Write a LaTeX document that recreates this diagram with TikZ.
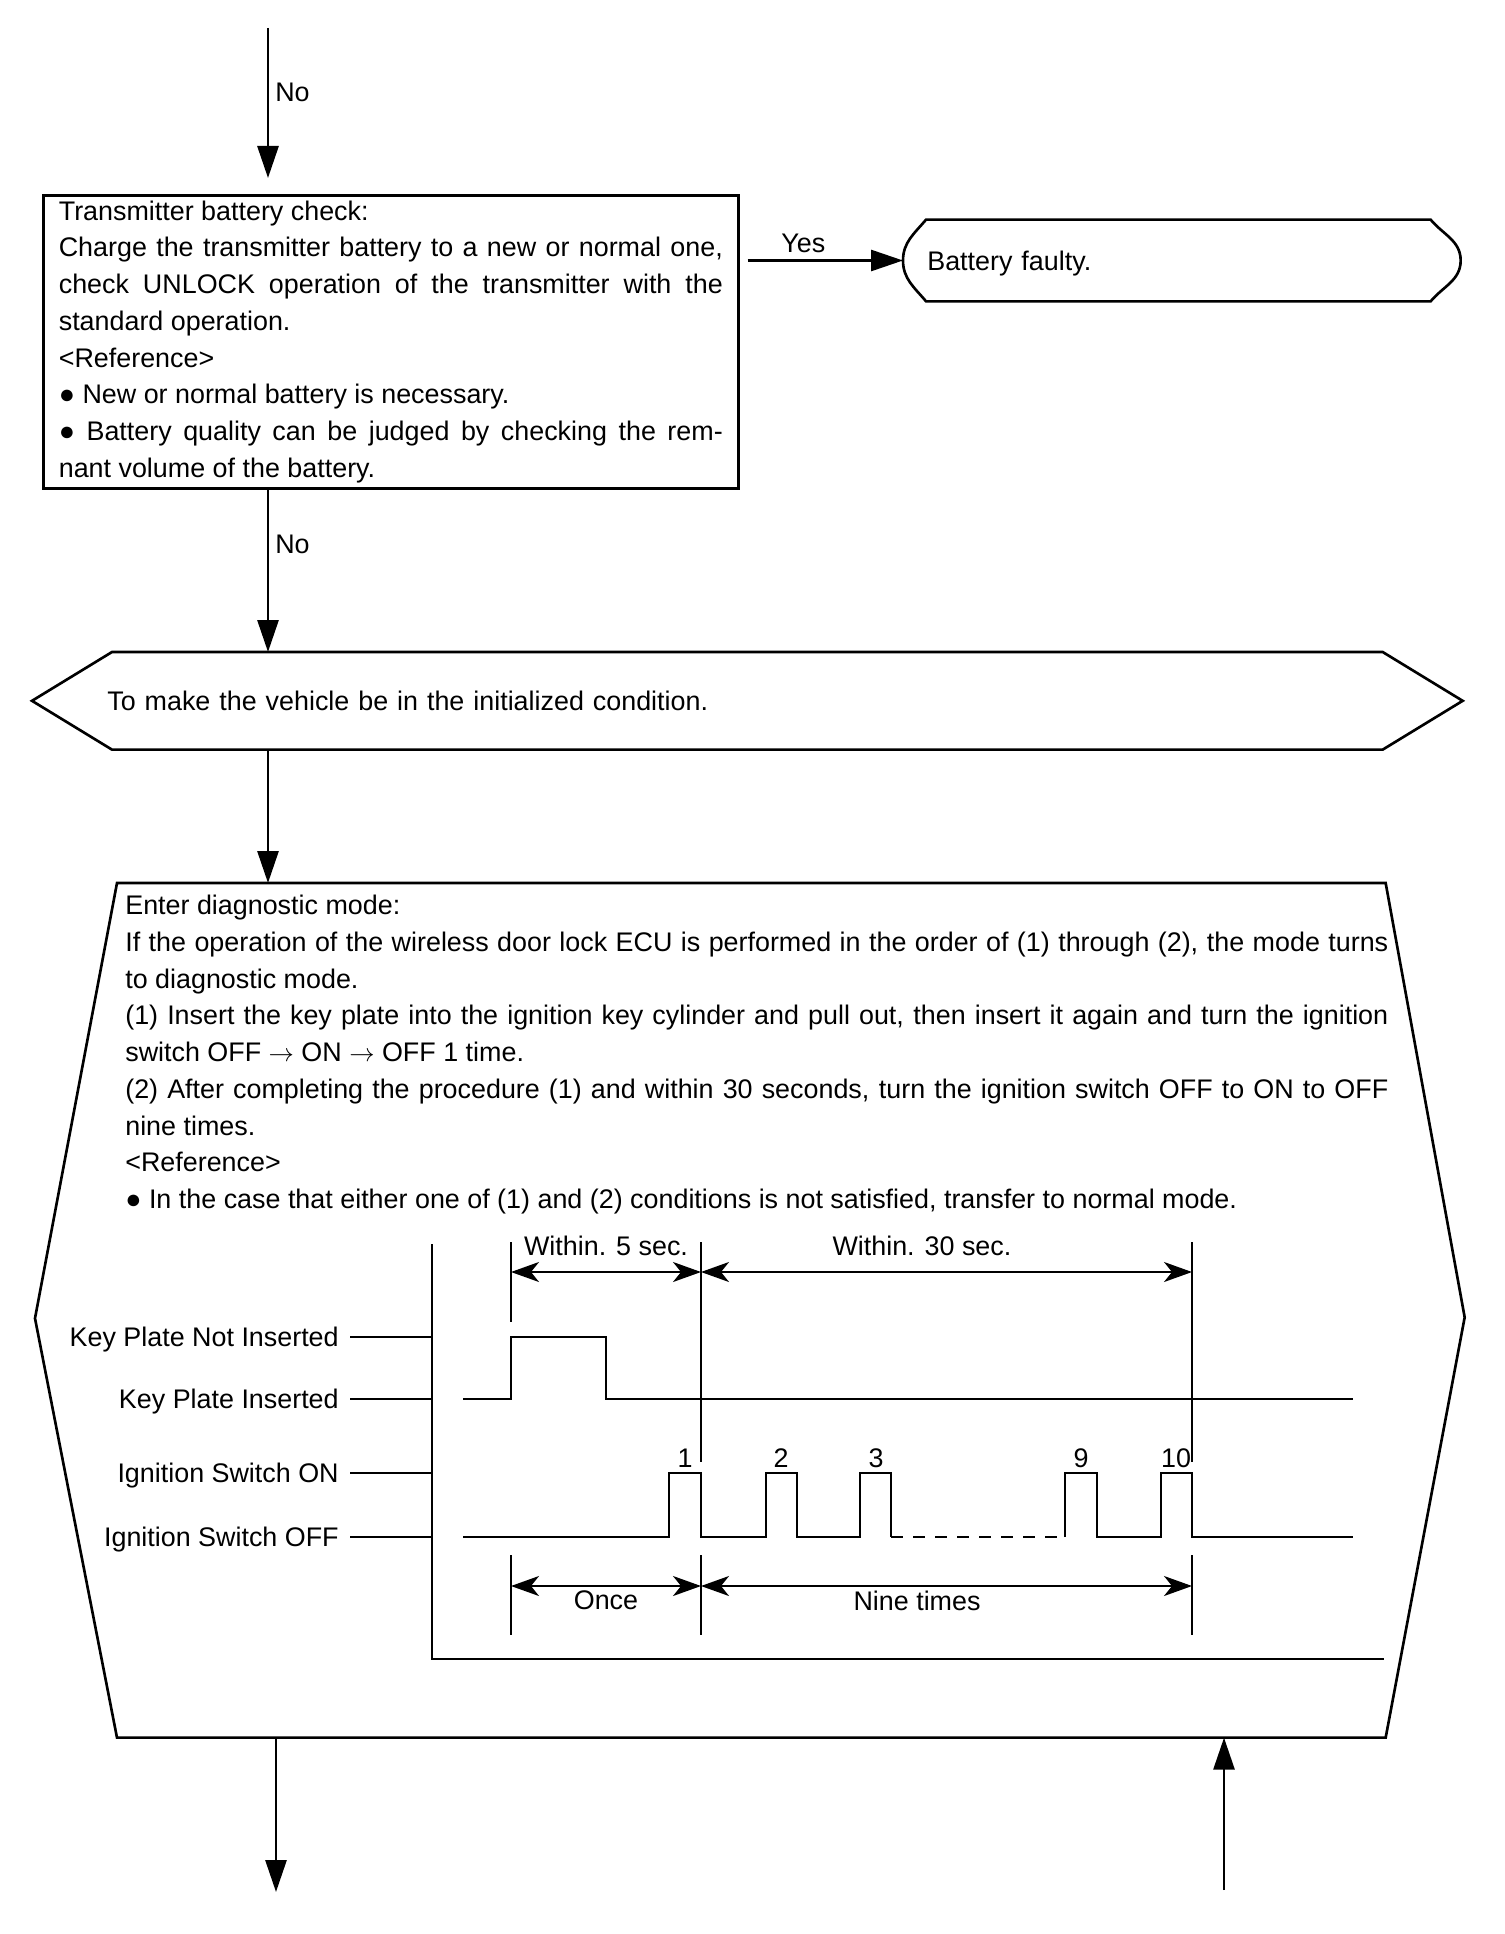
\documentclass[tikz,border=0pt]{standalone}
\usepackage{fontspec}
\setmainfont{Liberation Sans}
\usetikzlibrary{arrows.meta,positioning}
\tolerance=10000
\hbadness=10000

\begin{document}
\begin{tikzpicture}[
  x=0.2mm, y=-0.2mm,
  font=\fontsize{15.3pt}{20.9pt}\selectfont,
  line width=1.5pt,
  box/.style={draw, align=justify, inner xsep=3.1mm, inner ysep=0.8mm},
  txt/.style={inner sep=0pt},
  lab/.style={anchor=east, inner sep=0pt, text height=3.9mm, text depth=0pt},
  num/.style={anchor=base, inner sep=0pt},
  dimlab/.style={inner sep=0pt},
  ar/.style={-{Triangle[length=6.4mm, width=4.2mm]}, line width=1.6pt},
  dim/.style={{Stealth[length=5.6mm, width=4mm, inset=1.6mm]}-{Stealth[length=5.6mm, width=4mm, inset=1.6mm]},
              line width=1.1pt},
  guide/.style={line width=1.1pt},
  sig/.style={line width=1.6pt},
]

\fill[white] (0,0) rectangle (1504,1934);

\node[box, anchor=north west, text width=132.8mm, minimum height=58.6mm] (check) at (42,194)
  {Transmitter battery check:\\
   Charge the transmitter battery to a new or normal one,\linebreak
   check UNLOCK operation of the transmitter with the\linebreak
   standard operation.\\
   <Reference>\\
   ● New or normal battery is necessary.\\
   ● Battery quality can be judged by checking the rem-\linebreak
   nant volume of the battery.};

\node[txt, anchor=west, text width=100.4mm, minimum height=15.8mm, align=left, text depth=0pt] (faulty) at (926,260.5)
  {Battery faulty.};
\coordinate (fl) at ([xshift=-4.6mm]faulty.west);
\coordinate (fr) at ([xshift=6mm]faulty.east);
\draw (faulty.north west) -- (faulty.north east) to[out=-50, in=90] (fr)
      to[out=-90, in=50] (faulty.south east) -- (faulty.south west)
      to[out=130, in=-90] (fl) to[out=90, in=-130] (faulty.north west) -- cycle;

\node[txt, anchor=north west, text width=254.8mm, minimum height=19mm, align=left] (init) at (106,652)
  {To make the vehicle be in the initialized condition.};
\draw ([xshift=1.2mm]init.north west) -- (init.north east) -- ([xshift=16mm]init.east) -- (init.south east)
      -- ([xshift=1.2mm]init.south west) -- ([xshift=-14.8mm]init.west) -- cycle;

\node[txt, anchor=north west, minimum width=253.2mm, minimum height=170.4mm] (diag) at (117,883) {};
\draw (diag.north west) -- (diag.north east) -- ([xshift=15.8mm, yshift=-1.4mm]diag.east)
      -- (diag.south east) -- (diag.south west) -- ([xshift=-16.4mm, yshift=-1.6mm]diag.west) -- cycle;

\node[txt, anchor=north west, text width=252.6mm, align=justify] (diagtext) at (124,894)
  {Enter diagnostic mode:\\
   If the operation of the wireless door lock ECU is performed in the order of (1) through (2), the mode turns\linebreak
   to diagnostic mode.\\
   (1) Insert the key plate into the ignition key cylinder and pull out, then insert it again and turn the ignition\linebreak
   switch OFF $\rightarrow$ ON $\rightarrow$ OFF 1 time.\\
   (2) After completing the procedure (1) and within 30 seconds, turn the ignition switch OFF to ON to OFF\linebreak
   nine times.\\
   <Reference>\\
   ● In the case that either one of (1) and (2) conditions is not satisfied, transfer to normal mode.};

\coordinate (in1) at (268,28);
\coordinate (out1) at (276,1892);
\coordinate (in2) at (1224,1890);

\draw[ar, shorten >=3.2mm] (in1) -- node[right, pos=0.385] {No} (in1 |- check.north);
\draw[ar, shorten <=1.6mm] (check.east |- fl) -- node[above, pos=0.39] {Yes} (fl);
\draw[ar] (check.south -| in1) -- node[right, pos=0.34] {No} (init.north -| in1);
\draw[ar] (init.south -| in1) -- (diag.north -| in1);
\draw[ar] (diag.south -| out1) -- (out1);
\draw[ar] (in2) -- (in2 |- diag.south);

% timing chart
\coordinate (frm) at (432,1244);
\draw[sig] (frm) -- (432,1659) -- (1384,1659);

\node[lab] (kpn) at (340,1337) {Key Plate Not Inserted};
\node[lab] (kpi) at (340,1399) {Key Plate Inserted};
\node[lab] (ion) at (340,1473) {Ignition Switch ON};
\node[lab] (iof) at (340,1537) {Ignition Switch OFF};
\foreach \n in {kpn,kpi,ion,iof}
  \draw[sig] ([xshift=2mm]\n.east) -- (\n.east -| frm);

\draw[sig] (463,1399) -| (511,1337) -| (606,1399) -- (1353,1399);
\draw[sig] (463,1537) -| (669,1473) -| (701,1537) -| (766,1473) -| (797,1537)
           -| (860,1473) -| (891,1537);
\draw[sig, dash pattern=on 2.4mm off 2mm] (891,1537) -- (1065,1537);
\draw[sig] (1065,1537) |- (1097,1473) |- (1161,1537) |- (1192,1473) |- (1353,1537);

\foreach \x/\n in {685/1, 781/2, 876/3, 1081/9, 1176/10}
  \node[num] at (\x,1467) {\n};

\draw[guide] (511,1242) -- (511,1322);
\draw[guide] (701,1242) -- (701,1462);
\draw[guide] (1192,1242) -- (1192,1462);
\foreach \x in {511,701,1192}
  \draw[guide] (\x,1555) -- (\x,1635);

\draw[dim] (511,1272) -- node[dimlab, above=3mm] {Within. 5 sec.} (701,1272);
\draw[dim] (701,1272) -- node[dimlab, above=3mm, pos=0.45] {Within. 30 sec.} (1192,1272);
\draw[dim] (511,1586) -- node[dimlab, below=0.8mm] {Once} (701,1586);
\draw[dim] (701,1586) -- node[dimlab, below=0.8mm, pos=0.44] {Nine times} (1192,1586);

\end{tikzpicture}
\end{document}
